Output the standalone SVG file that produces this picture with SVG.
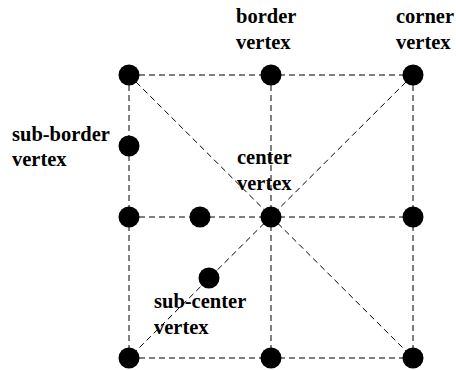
<svg xmlns="http://www.w3.org/2000/svg" width="456" height="370" viewBox="0 0 456 370">
<style>
.e{stroke:#000;stroke-width:1;stroke-dasharray:6 4;fill:none}
.v{fill:#000}
.t{font-family:"Liberation Serif","Times New Roman",serif;font-weight:bold;font-size:20.5px;fill:#000}
</style>
<rect width="456" height="370" fill="#fff"/>
<g id="connectors">
<line class="e" x1="129" y1="75" x2="413" y2="75"/>
<line class="e" x1="129" y1="217" x2="413" y2="217"/>
<line class="e" x1="129" y1="358" x2="413" y2="358"/>
<line class="e" x1="129" y1="75" x2="129" y2="358"/>
<line class="e" x1="271" y1="75" x2="271" y2="358"/>
<line class="e" x1="413" y1="75" x2="413" y2="358"/>
<line class="e" x1="129" y1="75" x2="413" y2="358"/>
<line class="e" x1="413" y1="75" x2="129" y2="358"/>
</g>
<g id="v-tl"><circle class="v" cx="129" cy="75" r="10.5"/></g>
<g id="v-border"><circle class="v" cx="271" cy="75" r="10.5"/><text class="t" x="236" y="23">border</text><text class="t" x="236" y="49">vertex</text></g>
<g id="v-corner"><circle class="v" cx="413" cy="75" r="10.5"/><text class="t" x="396" y="23">corner</text><text class="t" x="396" y="49">vertex</text></g>
<g id="v-subborder"><circle class="v" cx="129" cy="146" r="10.5"/><text class="t" x="12" y="141">sub-border</text><text class="t" x="12" y="166">vertex</text></g>
<g id="v-ml"><circle class="v" cx="129" cy="217" r="10.5"/></g>
<g id="v-mid"><circle class="v" cx="200" cy="217" r="10.5"/></g>
<g id="v-center"><circle class="v" cx="271" cy="217" r="10.5"/><text class="t" x="237" y="164">center</text><text class="t" x="237" y="190">vertex</text></g>
<g id="v-mr"><circle class="v" cx="413" cy="217" r="10.5"/></g>
<g id="v-subcenter"><circle class="v" cx="209" cy="278" r="10.5"/><text class="t" x="154" y="308">sub-center</text><text class="t" x="154" y="334">vertex</text></g>
<g id="v-bl"><circle class="v" cx="129" cy="358" r="10.5"/></g>
<g id="v-bm"><circle class="v" cx="271" cy="358" r="10.5"/></g>
<g id="v-br"><circle class="v" cx="413" cy="358" r="10.5"/></g>
</svg>
